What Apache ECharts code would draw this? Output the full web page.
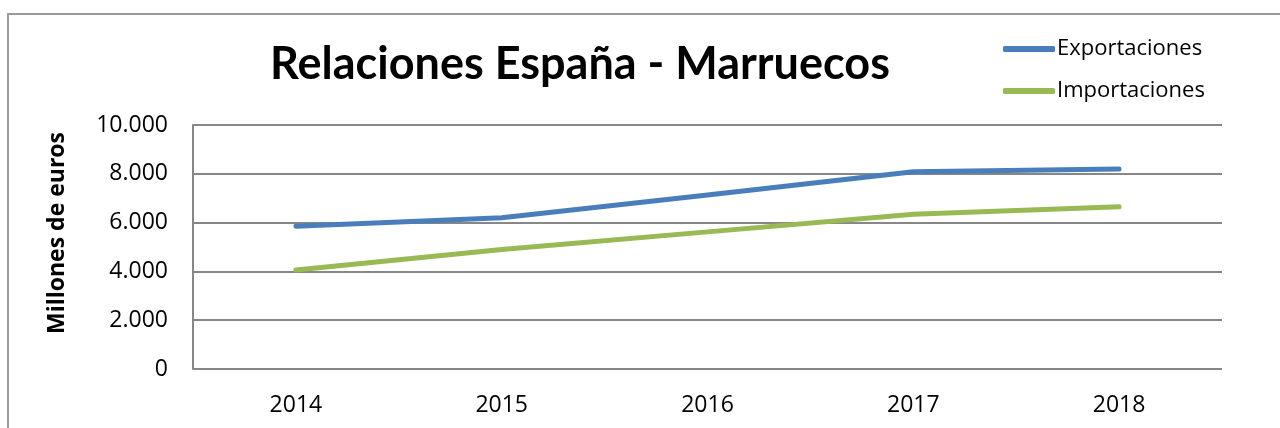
<!DOCTYPE html>
<html>
<head>
<meta charset="utf-8">
<script src="https://cdn.jsdelivr.net/npm/echarts@6/dist/echarts.min.js"></script>
<style>
  html, body { margin: 0; padding: 0; background: #fff; }
  #frame {
    position: absolute; left: 7px; top: 13px; width: 1400px; height: 500px;
    border-left: 2px solid #9a9a9a; border-top: 2px solid #9a9a9a;
  }
  #main { position: absolute; left: 0; top: 0; width: 1280px; height: 428px; }
</style>
</head>
<body>
<div id="frame"></div>
<div id="main"></div>
<script>
// datos (millones de euros)
const years = ['2014', '2015', '2016', '2017', '2018'];
const exportaciones = [5850, 6200, 7130, 8080, 8200];
const importaciones = [4060, 4900, 5620, 6340, 6650];
const yTicks = { min: 0, max: 10000, interval: 2000 };

const fmtMiles = v => String(v).replace(/\B(?=(\d{3})+(?!\d))/g, '.');

const myChart = echarts.init(document.getElementById('main'));

const option = {
  backgroundColor: 'transparent',
  animation: false,
  title: {
    text: 'Relaciones España - Marruecos',
    left: 575,
    top: 37,
    textAlign: 'center',
    textStyle: {
      fontFamily: 'Lato',
      fontWeight: 'bold',
      fontSize: 45,
      color: '#000'
    }
  },
  legend: {
    orient: 'vertical',
    left: 998,
    top: 33,
    itemWidth: 52,
    itemHeight: 6,
    itemGap: 20,
    icon: 'roundRect',
    textStyle: { fontFamily: 'Open Sans', fontSize: 22, color: '#000', padding: [0, 0, 0, -3] },
    data: ['Exportaciones', 'Importaciones']
  },
  grid: {
    left: 193,
    right: 58,
    top: 125,
    bottom: 59,
    containLabel: false
  },
  xAxis: {
    type: 'category',
    data: years,
    boundaryGap: true,
    axisLine: { show: false },
    axisTick: { show: false },
    axisLabel: {
      fontFamily: 'Open Sans',
      fontSize: 23,
      color: '#000',
      margin: 25
    }
  },
  yAxis: {
    type: 'value',
    min: yTicks.min,
    max: yTicks.max,
    interval: yTicks.interval,
    name: 'Millones de euros',
    nameLocation: 'middle',
    nameGap: 124,
    nameRotate: 90,
    nameTextStyle: {
      fontFamily: 'Open Sans',
      fontWeight: 'bold',
      fontSize: 23,
      color: '#000',
      padding: [0, 0, 0, 28]
    },
    axisLine: { show: true, lineStyle: { color: '#878787', width: 2 } },
    axisTick: { show: false },
    axisLabel: {
      fontFamily: 'Open Sans',
      fontSize: 23,
      color: '#000',
      margin: 25,
      formatter: fmtMiles
    },
    splitLine: { lineStyle: { color: '#878787', width: 2 } }
  },
  series: [
    {
      name: 'Exportaciones',
      type: 'line',
      data: exportaciones,
      symbol: 'none',
      itemStyle: { color: '#4a7ebb' },
      lineStyle: { color: '#4a7ebb', width: 5, cap: 'round', join: 'round' }
    },
    {
      name: 'Importaciones',
      type: 'line',
      data: importaciones,
      symbol: 'none',
      itemStyle: { color: '#98b954' },
      lineStyle: { color: '#98b954', width: 5, cap: 'round', join: 'round' }
    }
  ]
};

myChart.setOption(option);
</script>
</body>
</html>
